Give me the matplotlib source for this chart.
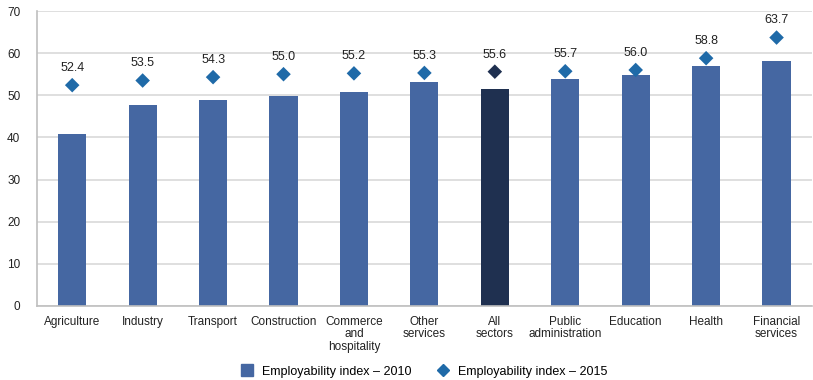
import numpy as np
import matplotlib.pyplot as plt
from matplotlib.lines import Line2D

# sectors and index values
sectors = ['Agriculture', 'Industry', 'Transport', 'Construction',
           'Commerce\nand\nhospitality', 'Other\nservices', 'All\nsectors',
           'Public\nadministration', 'Education', 'Health', 'Financial\nservices']
index_2010 = [40.9, 47.6, 48.8, 49.8, 50.7, 53.2, 51.6, 53.8, 54.7, 56.9, 58.2]
index_2015 = [52.4, 53.5, 54.3, 55.0, 55.2, 55.3, 55.6, 55.7, 56.0, 58.8, 63.7]
highlight = 'All\nsectors'

plt.rcParams['font.family'] = ['Liberation Sans', 'DejaVu Sans']

bar_col = '#4567a2'
dia_col = '#1f6aa8'
dark = '#1f3050'

fig = plt.figure(figsize=(8.13, 3.8), dpi=100)
ax = fig.add_axes([0.0455, 0.195, 0.953, 0.776])

x = np.arange(len(sectors))
bcols = [dark if s == highlight else bar_col for s in sectors]
dcols = [dark if s == highlight else dia_col for s in sectors]

ax.bar(x, index_2010, width=0.4, color=bcols, zorder=2)
ax.scatter(x, index_2015, marker='D', s=55, c=dcols, zorder=3, linewidths=0)
for xi, v in zip(x, index_2015):
    ax.annotate(f'{v:.1f}', (xi, v), xytext=(0, 8), textcoords='offset points',
                ha='center', va='bottom', fontsize=9, color='#222222')

ax.set_xlim(-0.5, len(sectors) - 0.5)
ax.set_ylim(0, 70)
ax.set_yticks(range(0, 71, 10))
ax.set_xticks(x)
ax.set_xticklabels(sectors, linespacing=1.05)
ax.tick_params(axis='both', length=0, labelsize=8.5, colors='#222222')
ax.tick_params(axis='x', pad=7)
ax.tick_params(axis='y', pad=12)
ax.yaxis.grid(True, color='#d9d9d9', linewidth=1.2, zorder=0)
ax.set_axisbelow(True)
for s in ['top', 'right']:
    ax.spines[s].set_visible(False)
for s in ['left', 'bottom']:
    ax.spines[s].set_color('#bfbfbf')
    ax.spines[s].set_linewidth(1.2)

handles = [Line2D([], [], marker='s', ls='', color=bar_col, markersize=8),
           Line2D([], [], marker='D', ls='', color=dia_col, markersize=6)]
fig.legend(handles, ['Employability index \u2013 2010', 'Employability index \u2013 2015'],
           loc='center', bbox_to_anchor=(0.518, 0.022), ncol=2, frameon=False,
           fontsize=9, handletextpad=0.2, columnspacing=1.5)

fig.savefig('out.png', dpi=100)
